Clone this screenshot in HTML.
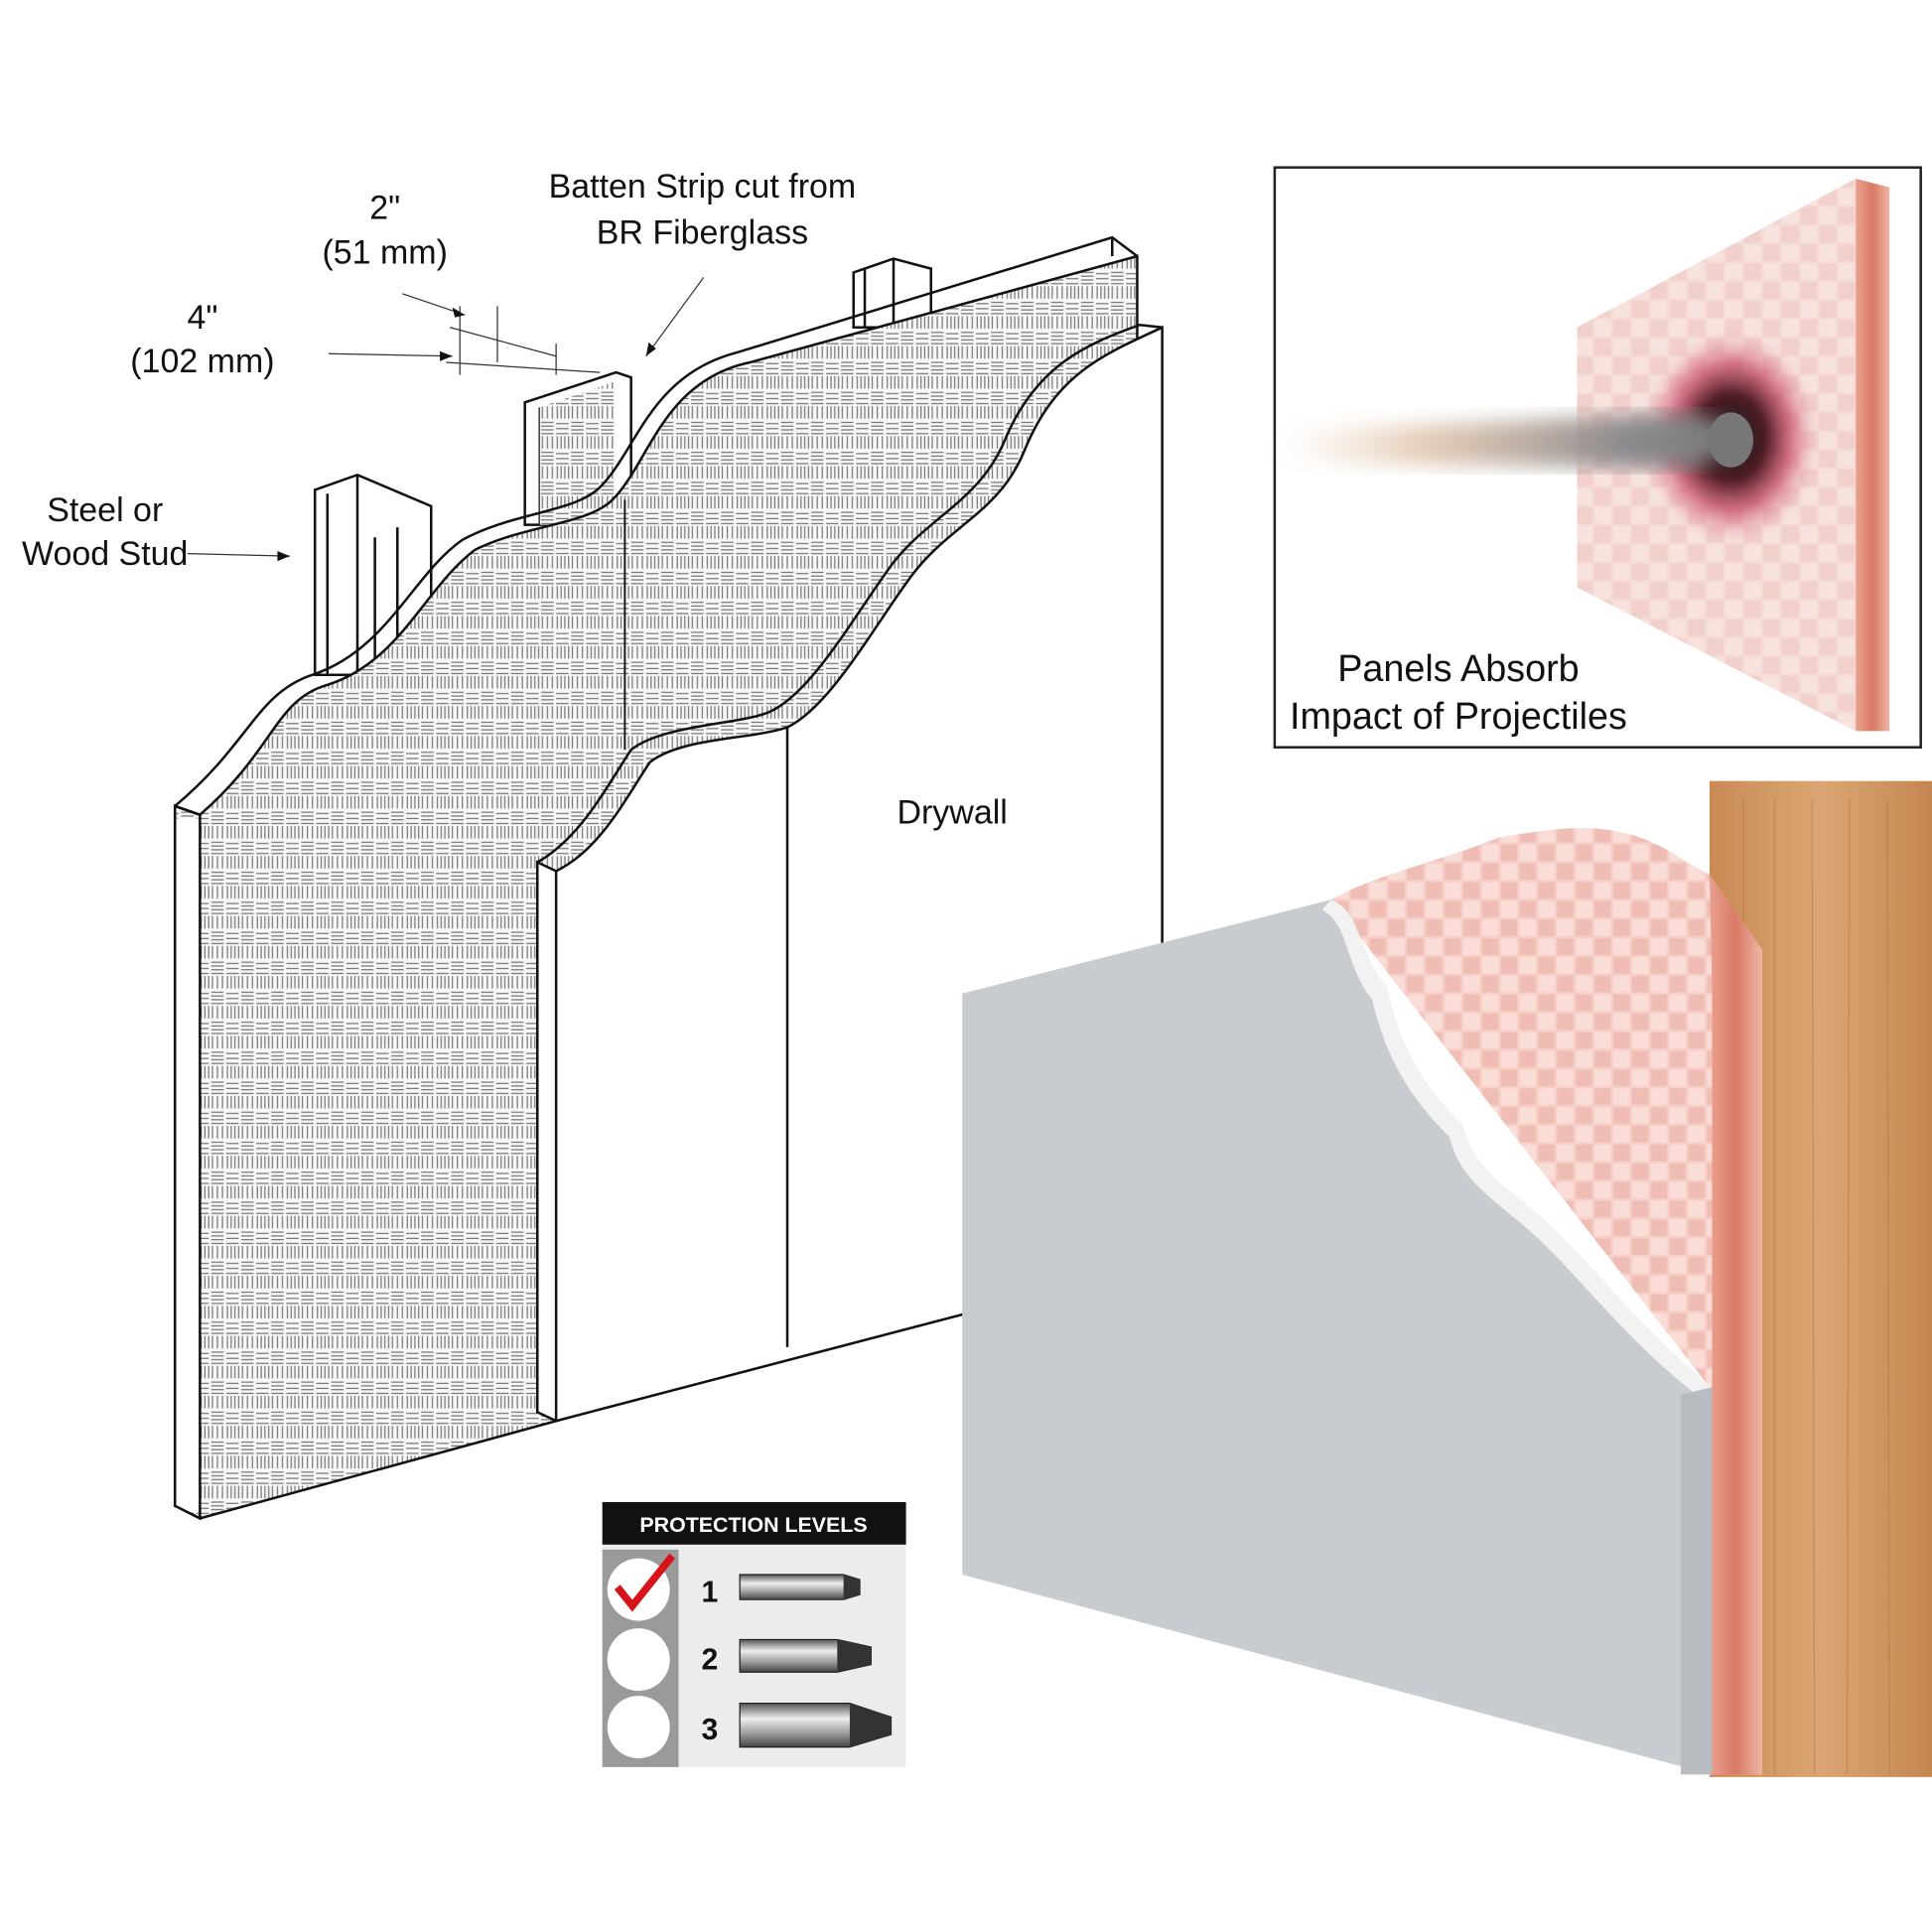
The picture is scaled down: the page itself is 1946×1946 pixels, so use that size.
<!DOCTYPE html>
<html><head><meta charset="utf-8"><style>
html,body{margin:0;padding:0;background:#fff}
svg{display:block}
text{font-family:"Liberation Sans Narrow","Liberation Sans",sans-serif;fill:#111}
</style></head><body>
<svg width="1946" height="1946" viewBox="0 0 1546 1546" xmlns="http://www.w3.org/2000/svg">
<defs>
<pattern id="weave" width="24" height="24" patternUnits="userSpaceOnUse">
<rect width="24" height="24" fill="#f7f7f7"/>
<g stroke="#777" stroke-width="1">
<line x1="1" y1="2" x2="11" y2="2"/><line x1="1" y1="5" x2="11" y2="5"/><line x1="1" y1="8" x2="11" y2="8"/><line x1="1" y1="11" x2="11" y2="11"/>
<line x1="14" y1="13" x2="14" y2="23"/><line x1="17" y1="13" x2="17" y2="23"/><line x1="20" y1="13" x2="20" y2="23"/><line x1="23" y1="13" x2="23" y2="23"/>
<line x1="2" y1="13" x2="2" y2="23"/><line x1="6" y1="13" x2="6" y2="23"/><line x1="10" y1="13" x2="10" y2="23"/>
<line x1="13" y1="3" x2="23" y2="3"/><line x1="13" y1="7" x2="23" y2="7"/><line x1="13" y1="11" x2="23" y2="11"/>
</g></pattern>
<pattern id="pinkweave" width="30" height="30" patternUnits="userSpaceOnUse">
<rect width="30" height="30" fill="#f6cfc8"/>
<rect x="1" y="1" width="13" height="13" fill="#f9ddd6"/><rect x="16" y="16" width="13" height="13" fill="#f9ddd6"/>
<rect x="16" y="1" width="13" height="13" fill="#f0bdb4"/><rect x="1" y="16" width="13" height="13" fill="#f0bdb4"/>
</pattern>
<linearGradient id="wood" x1="0" x2="1"><stop offset="0" stop-color="#c98a55"/><stop offset=".5" stop-color="#dba674"/><stop offset="1" stop-color="#c58650"/></linearGradient>
<linearGradient id="edge" x1="0" x2="1"><stop offset="0" stop-color="#e9a08f"/><stop offset=".5" stop-color="#d97a66"/><stop offset="1" stop-color="#f0b6a6"/></linearGradient>
<radialGradient id="burn" cx=".5" cy=".5" r=".5"><stop offset="0" stop-color="#222"/><stop offset=".4" stop-color="#4a1a22"/><stop offset=".7" stop-color="#c94a66" stop-opacity=".7"/><stop offset="1" stop-color="#e9a0ae" stop-opacity="0"/></radialGradient>
<linearGradient id="proj" x1="0" x2="1"><stop offset="0" stop-color="#e8c9a6" stop-opacity="0"/><stop offset=".3" stop-color="#d8b79a" stop-opacity=".7"/><stop offset=".75" stop-color="#8a8a8e"/><stop offset="1" stop-color="#777"/></linearGradient>
<filter id="blur"><feGaussianBlur stdDeviation="8"/></filter>
<filter id="blur2"><feGaussianBlur stdDeviation="3"/></filter>
<linearGradient id="bul" x1="0" y1="0" x2="0" y2="1"><stop offset="0" stop-color="#555"/><stop offset=".35" stop-color="#eee"/><stop offset=".7" stop-color="#999"/><stop offset="1" stop-color="#444"/></linearGradient>
</defs>

<g fill="#fff" stroke="#111" stroke-width="2">
<path d="M252,392 L286,380 L345,405 L345,540 L252,540 Z"/>
<path d="M262,395 L262,540 M286,380 L286,540 M300,430 L300,540 M318,422 L318,540"/>
<path d="M683,218 L715,207 L745,215 L745,262 L683,262 Z"/>
<path d="M692,215 L692,262 M715,207 L715,262"/>
<path d="M420,322 L493,298 L505,302 L505,420 L420,420 Z"/>
<path d="M432,326 L432,420"/>
</g>
<path d="M432,326 L493,305 L493,420 L432,420 Z" fill="url(#weave)"/>

<path d="M140,645 L160,652 C220,600 220,560 262,548 C320,530 340,470 380,440 C420,420 470,420 490,400 C520,370 530,305 600,290 L910,205 L910,1010 L160,1215 L140,1205 Z" fill="url(#weave)" stroke="#111" stroke-width="2"/>
<path d="M140,645 C200,595 205,555 250,540 C310,520 330,460 370,432 C410,410 460,410 480,390 C510,360 520,300 590,282 L890,190 L910,205" fill="none" stroke="#111" stroke-width="2"/>
<path d="M890,190 L890,205" stroke="#111" stroke-width="2"/>
<rect x="141" y="655" width="18" height="555" fill="#fff"/>
<path d="M140,645 L140,1205 L160,1215 L160,652 Z" fill="none" stroke="#111" stroke-width="2"/>
<path d="M500,400 L500,600" stroke="#111" stroke-width="1.5"/>

<path d="M430,690 L445,697 C480,680 500,640 520,610 C545,590 600,592 630,582 C665,565 700,500 730,460 C760,420 800,410 820,360 C845,300 880,285 930,262 L930,1010 L445,1137 L430,1130 Z" fill="#fff" stroke="#111" stroke-width="2"/>
<path d="M430,690 C465,670 485,630 505,600 C530,580 590,580 615,570 C650,555 685,490 715,450 C745,412 785,400 805,350 C830,292 870,275 912,260 L930,262" fill="none" stroke="#111" stroke-width="2"/>
<path d="M445,697 L445,1137 M630,582 L630,1078" stroke="#111" stroke-width="2"/>

<g stroke="#333" stroke-width="1" fill="none">
<path d="M322,235 L372,252 M368,245 L368,300 M398,245 L398,290 M360,262 L445,285 M263,283 L362,285 M357,290 L480,298 M445,275 L445,300"/>
<path d="M563,222 L517,285"/>
<path d="M150,443 L232,445"/>
</g>
<g fill="#111"><path d="M372,252 L362,246 L364,254 Z"/><path d="M362,285 L352,281 L352,289 Z"/><path d="M517,285 L519,274 L525,279 Z"/><path d="M232,445 L222,441 L222,449 Z"/></g>

<g font-size="27">
<text x="308" y="175" text-anchor="middle">2"</text>
<text x="308" y="211" text-anchor="middle">(51 mm)</text>
<text x="162" y="263" text-anchor="middle">4"</text>
<text x="162" y="298" text-anchor="middle">(102 mm)</text>
<text x="562" y="158" text-anchor="middle">Batten Strip cut from</text>
<text x="562" y="195" text-anchor="middle">BR Fiberglass</text>
<text x="84" y="417" text-anchor="middle">Steel or</text>
<text x="84" y="452" text-anchor="middle">Wood Stud</text>
<text x="762" y="659" text-anchor="middle">Drywall</text>
</g>

<rect x="1020" y="134" width="517" height="464" fill="#fff" stroke="#222" stroke-width="2"/>
<path d="M1262,262 L1485,143 L1485,585 L1262,470 Z" fill="url(#pinkweave)" opacity=".9"/>
<path d="M1262,262 L1485,143 L1485,585 L1262,470 Z" fill="#f2e6e6" opacity=".35"/>
<path d="M1485,143 L1512,150 L1512,585 L1485,585 Z" fill="url(#edge)"/>
<ellipse cx="1385" cy="350" rx="70" ry="85" fill="url(#burn)" filter="url(#blur2)"/>
<path d="M1025,345 L1360,330 L1395,350 L1360,375 L1025,370 Z" fill="url(#proj)" filter="url(#blur)"/>
<ellipse cx="1385" cy="352" rx="18" ry="22" fill="#777"/>
<text x="1167" y="545" font-size="30" text-anchor="middle">Panels Absorb</text>
<text x="1167" y="583" font-size="30" text-anchor="middle">Impact of Projectiles</text>

<rect x="1368" y="625" width="178" height="797" fill="url(#wood)"/>
<g stroke="#b57440" stroke-width="1" opacity=".5"><path d="M1420,640 L1420,1420 M1450,640 L1452,1420 M1480,640 L1478,1420 M1510,640 L1512,1420 M1395,640 L1395,1420"/></g>
<path d="M1065,720 C1100,700 1150,690 1200,670 C1260,660 1300,655 1350,690 L1368,700 L1410,760 L1410,1420 L1368,1420 L1368,1110 Z" fill="url(#pinkweave)"/>
<path d="M1368,700 L1410,760 L1410,1420 L1370,1420 L1370,790 Z" fill="url(#edge)"/>
<path d="M770,795 L1065,720 C1090,730 1085,760 1110,790 C1120,840 1140,870 1170,900 C1180,940 1210,950 1250,990 C1280,1020 1320,1070 1370,1110 L1370,1420 L770,1260 Z" fill="#c8cbcf"/>
<path d="M1065,720 C1090,730 1085,760 1110,790 C1120,840 1140,870 1170,900 C1180,940 1210,950 1250,990 C1280,1020 1320,1070 1370,1110 L1360,1118 C1310,1080 1270,1030 1240,1000 C1200,960 1170,950 1160,910 C1130,880 1110,850 1098,800 C1075,770 1080,740 1058,728 Z" fill="#f2f2f2"/>
<path d="M1345,1116 L1370,1110 L1370,1420 L1345,1420 Z" fill="#b8bbbf"/>

<rect x="482" y="1202" width="243" height="212" fill="#ececec"/>
<rect x="482" y="1202" width="243" height="34" fill="#111"/>
<text x="603" y="1226" font-family="Liberation Sans" font-size="17" font-weight="bold" text-anchor="middle" style="fill:#fff">PROTECTION LEVELS</text>
<rect x="482" y="1240" width="61" height="174" fill="#9a9a9a"/>
<circle cx="511" cy="1272" r="25" fill="#fff"/>
<circle cx="511" cy="1328" r="25" fill="#fff"/>
<circle cx="511" cy="1382" r="25" fill="#fff"/>
<path d="M494,1270 L506,1285 L538,1245" fill="none" stroke="#d8141b" stroke-width="6"/>
<g font-family="Liberation Sans" font-weight="bold" font-size="24">
<text x="568" y="1282" text-anchor="middle">1</text>
<text x="568" y="1336" text-anchor="middle">2</text>
<text x="568" y="1392" text-anchor="middle">3</text>
</g>
<path d="M592,1260 L675,1260 L688,1264 L688,1276 L675,1280 L592,1280 Z" fill="url(#bul)" stroke="#222"/>
<path d="M592,1312 L670,1312 L697,1318 L697,1332 L670,1338 L592,1338 Z" fill="url(#bul)" stroke="#222"/>
<path d="M592,1363 L680,1363 L713,1374 L713,1388 L680,1398 L592,1398 Z" fill="url(#bul)" stroke="#222"/>
<path d="M675,1260 L688,1264 L688,1276 L675,1280 Z M670,1312 L697,1318 L697,1332 L670,1338 Z M680,1363 L713,1374 L713,1388 L680,1398 Z" fill="#333"/>
</svg>
</body></html>
